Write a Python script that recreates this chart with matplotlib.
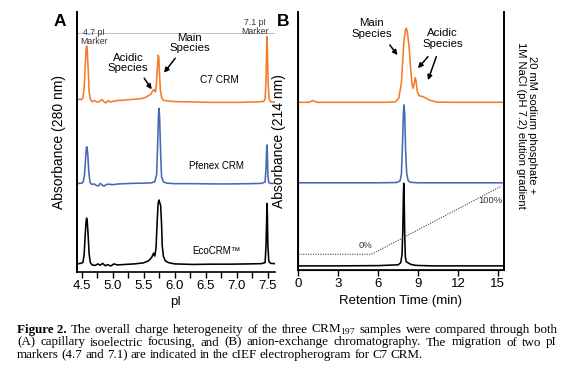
import matplotlib
matplotlib.use('Agg')
import matplotlib.pyplot as plt
from matplotlib.ticker import MultipleLocator

plt.rcParams['font.family'] = ['Liberation Sans', 'DejaVu Sans']
plt.rcParams['mathtext.fontset'] = 'custom'
plt.rcParams['mathtext.rm'] = 'Liberation Serif'
plt.rcParams['mathtext.bf'] = 'Liberation Serif:bold'

ORANGE = '#f47b2a'
BLUE = '#4668b3'

# ---- panel A: cIEF electropherograms (pI vs absorbance, arbitrary units, stacked)
c7_pi = [4.42, 4.46, 4.50, 4.52, 4.54, 4.555, 4.57, 4.58, 4.59, 4.605,
         4.62, 4.64, 4.67, 4.71, 4.75, 4.79, 4.83, 4.86, 4.89, 4.93,
         4.97, 5.02, 5.08, 5.15, 5.25, 5.35, 5.45, 5.52, 5.58, 5.62,
         5.65, 5.67, 5.69, 5.705, 5.72, 5.735, 5.745, 5.755, 5.77, 5.79,
         5.82, 5.9, 6.0, 6.2, 6.4, 6.6, 6.8, 7.0, 7.2, 7.35,
         7.44, 7.46, 7.475, 7.485, 7.49, 7.497, 7.51, 7.525, 7.55, 7.62]
c7_abs = [66.0, 66.4, 66.3, 67.0, 70.5, 78.0, 85.0, 86.9, 85.5, 78.0,
          69.5, 66.4, 65.4, 65.9, 65.3, 65.6, 66.3, 65.4, 65.0, 65.9,
          65.3, 65.7, 65.9, 66.0, 66.2, 66.4, 66.6, 67.0, 67.8, 68.5,
          69.8, 70.2, 69.2, 71.5, 78.0, 83.4, 82.5, 77.0, 70.0, 67.0,
          66.0, 65.7, 65.5, 65.4, 65.3, 65.2, 65.2, 65.2, 65.3, 65.4,
          65.6, 66.5, 74.0, 86.0, 90.5, 86.0, 72.0, 66.5, 65.4, 65.3]

pf_pi = [4.42, 4.48, 4.52, 4.545, 4.56, 4.575, 4.585, 4.60, 4.615, 4.635,
         4.66, 4.70, 4.74, 4.77, 4.80, 4.83, 4.86, 4.90, 4.95, 5.0,
         5.1, 5.3, 5.5, 5.62, 5.68, 5.71, 5.725, 5.74, 5.75, 5.76,
         5.775, 5.79, 5.82, 5.87, 6.0, 6.3, 6.6, 6.9, 7.2, 7.4,
         7.46, 7.475, 7.485, 7.49, 7.497, 7.505, 7.52, 7.55, 7.62]
pf_abs = [34.0, 34.0, 34.3, 37.0, 42.0, 47.5, 48.1, 45.0, 38.5, 34.5,
          33.6, 33.8, 33.2, 33.0, 34.0, 33.4, 32.9, 33.6, 33.7, 33.5,
          33.8, 34.0, 34.1, 34.2, 34.6, 37.5, 48.0, 60.5, 62.9, 58.0,
          45.0, 36.5, 34.6, 34.1, 33.9, 33.9, 33.8, 33.8, 33.9, 34.0,
          34.5, 40.0, 47.0, 48.8, 45.0, 37.0, 34.3, 34.0, 34.0]

eco_pi = [4.42, 4.48, 4.52, 4.54, 4.555, 4.57, 4.58, 4.59, 4.605, 4.62,
          4.64, 4.67, 4.72, 4.76, 4.80, 4.84, 4.88, 4.92, 4.97, 5.02,
          5.08, 5.2, 5.35, 5.5, 5.58, 5.63, 5.66, 5.68, 5.70, 5.72,
          5.735, 5.75, 5.76, 5.775, 5.79, 5.80, 5.82, 5.85, 5.9, 6.0,
          6.3, 6.6, 6.9, 7.2, 7.4, 7.46, 7.475, 7.485, 7.49, 7.497,
          7.505, 7.52, 7.55, 7.62]
eco_abs = [3.0, 3.2, 3.5, 6.5, 13.0, 19.0, 20.6, 19.5, 14.0, 7.0,
           3.5, 2.6, 2.4, 3.0, 2.5, 3.2, 2.3, 2.7, 2.2, 3.0,
           2.6, 2.8, 3.0, 3.4, 4.2, 5.5, 7.1, 6.0, 9.0, 20.0,
           26.5, 27.6, 26.5, 25.5, 18.0, 10.0, 5.8, 4.2, 3.5, 3.0,
           2.8, 2.9, 2.9, 3.0, 3.1, 3.5, 10.0, 20.0, 26.3, 22.0,
           10.0, 4.0, 3.2, 3.1]

pi_ticks = [4.5, 5.0, 5.5, 6.0, 6.5, 7.0, 7.5]

# ---- panel B: anion-exchange chromatograms (retention time in min)
c7_t = [0, 0.8, 1.1, 1.4, 3, 5, 6.5, 7.3, 7.55, 7.75,
        7.93, 8.05, 8.13, 8.22, 8.33, 8.45, 8.55, 8.63, 8.72, 8.8,
        8.86, 8.95, 9.1, 9.38, 9.6, 9.9, 10.4, 11.5, 13, 15.43]
c7_ab = [65.0, 65.0, 65.7, 65.0, 65.0, 65.0, 65.0, 65.2, 66.5, 72.4,
         87.9, 93.0, 93.7, 91.5, 86.6, 78.0, 72.0, 70.4, 72.5, 74.5,
         73.0, 69.0, 67.5, 67.2, 66.6, 65.8, 65.1, 65.0, 65.0, 65.0]

pf_t = [0, 3, 6, 7.4, 7.65, 7.75, 7.83, 7.9, 7.95, 8.0,
        8.07, 8.15, 8.25, 8.4, 9, 12, 15.43]
pf_ab = [33.8, 33.8, 33.8, 33.9, 34.5, 37.0, 48.0, 60.5, 64.0, 60.5,
         46.0, 37.5, 34.8, 34.0, 33.8, 33.8, 33.8]

eco_t = [0, 3, 6, 7.5, 7.7, 7.8, 7.86, 7.9, 7.93, 7.96,
         8.0, 8.05, 8.12, 8.25, 8.45, 8.8, 10, 15.43]
eco_ab = [1.6, 1.6, 1.7, 2.0, 2.8, 6.0, 16.0, 28.0, 33.6, 28.0,
          14.0, 5.0, 3.2, 2.8, 2.2, 1.8, 1.6, 1.6]

# salt gradient (% buffer B)
grad_t = [0, 5.5, 15.3]
grad_pct = [0, 0, 100]

time_ticks = [0, 3, 6, 9, 12, 15]

caption = [
    [("Figure 2.", True)] + [(w, False) for w in
     "The overall charge heterogeneity of the three CRM$_{197}$ samples were compared through both".split(' ')],
    [(w, False) for w in
     "(A) capillary isoelectric focusing, and (B) anion-exchange chromatography. The migration of two pI".split(' ')],
    [(w, False) for w in
     "markers (4.7 and 7.1) are indicated in the cIEF electropherogram for C7 CRM.".split(' ')],
]

fig = plt.figure(figsize=(5.74, 3.76), dpi=100)

# ============ panel A
axa = fig.add_axes([0.1336, 0.2774, 0.3455, 0.6907])
axa.axhline(91.8, color='#b5b5b5', lw=0.6, zorder=1)
axa.plot(c7_pi, c7_abs, color=ORANGE, lw=1.15)
axa.plot(pf_pi, pf_abs, color=BLUE, lw=1.15)
axa.plot(eco_pi, eco_abs, color='black', lw=1.15)
axa.set_xlim(4.42, 7.62)
axa.set_ylim(0, 100)
axa.set_xticks(pi_ticks)
axa.set_xticklabels(['%.1f' % v for v in pi_ticks])
axa.xaxis.set_minor_locator(MultipleLocator(0.25))
axa.set_yticks([])
for s in ['top', 'right']:
    axa.spines[s].set_visible(False)
axa.spines['left'].set_linewidth(1.4)
axa.spines['bottom'].set_linewidth(1.2)
axa.tick_params(axis='x', which='both', direction='out', length=4, width=1.0, labelsize=9.5, pad=2)
axa.set_xlabel('pI', fontsize=9.5, labelpad=3)
axa.set_ylabel('Absorbance (280 nm)', fontsize=10)
axa.yaxis.set_label_coords(-0.052, 0.5)

axa.text(4.70, 90.4, '4.7 pI\nMarker', fontsize=6.3, ha='center', va='center', color='#333333', linespacing=1.1)
axa.text(7.30, 94.2, '7.1 pI\nMarker', fontsize=6.3, ha='center', va='center', color='#333333', linespacing=1.1)
axa.text(5.25, 80.4, 'Acidic\nSpecies', fontsize=8.2, ha='center', va='center', linespacing=1.05)
axa.text(6.24, 88.1, 'Main\nSpecies', fontsize=8.2, ha='center', va='center', linespacing=1.05)
axa.text(6.73, 73.8, 'C7 CRM', fontsize=7.3, ha='center', va='center')
axa.text(6.68, 40.7, 'Pfenex CRM', fontsize=7.0, ha='center', va='center')
axa.text(6.67, 8.0, 'EcoCRM\u2122', fontsize=7.0, ha='center', va='center')
arrow = dict(arrowstyle='-|>', color='black', lw=1.1, mutation_scale=7, shrinkA=0, shrinkB=0)
axa.annotate('', xy=(5.63, 70.2), xytext=(5.51, 74.5), arrowprops=arrow)
axa.annotate('', xy=(5.83, 76.6), xytext=(6.01, 82.2), arrowprops=arrow)
fig.text(60 / 574, 1 - 22 / 376, 'A', fontsize=12.5, fontweight='bold', ha='center', va='center')

# ============ panel B
axb = fig.add_axes([0.5197, 0.2819, 0.3575, 0.6862])
axb.plot(c7_t, c7_ab, color=ORANGE, lw=1.15)
axb.plot(pf_t, pf_ab, color=BLUE, lw=1.15)
axb.plot(eco_t, eco_ab, color='black', lw=1.15)
axb.set_xlim(0, 15.43)
axb.set_ylim(0, 100)
axb.set_xticks(time_ticks)
axb.set_yticks([])
axb.spines['top'].set_visible(False)
for s in ['left', 'right']:
    axb.spines[s].set_linewidth(1.4)
axb.spines['bottom'].set_linewidth(1.2)
axb.tick_params(axis='x', direction='out', length=4, width=1.0, labelsize=9.5, pad=2)
axb.set_xlabel('Retention Time (min)', fontsize=9.5, labelpad=3)
axb.set_ylabel('Absorbance (214 nm)', fontsize=10)
axb.yaxis.set_label_coords(-0.058, 0.5)

axg = axb.twinx()
axg.plot(grad_t, grad_pct, color='#444444', lw=0.8, ls=(0, (1, 1.2)))
axg.set_ylim(-23.0, 354.4)
axg.set_yticks([])
axg.spines['top'].set_visible(False)
axg.spines['right'].set_visible(False)
axg.text(5.55, 6.2, '0%', fontsize=6.8, ha='right', va='bottom', color='#333333')
axg.text(15.32, 79, '100%', fontsize=6.8, ha='right', va='center', color='#333333')

axb.text(5.5, 93.6, 'Main\nSpecies', fontsize=8.2, ha='center', va='center', linespacing=1.05)
axb.text(10.83, 89.7, 'Acidic\nSpecies', fontsize=8.2, ha='center', va='center', linespacing=1.05)
axb.annotate('', xy=(7.46, 83.3), xytext=(6.88, 87.2), arrowprops=arrow)
axb.annotate('', xy=(9.0, 78.2), xytext=(9.75, 82.7), arrowprops=arrow)
axb.annotate('', xy=(9.75, 73.6), xytext=(10.38, 82.7), arrowprops=arrow)
axb.text(1.112, 0.56, '20 mM sodium phosphate +\n1M NaCl (pH 7.2) elution gradient',
         transform=axb.transAxes, rotation=-90, fontsize=8, ha='center', va='center',
         multialignment='center', linespacing=1.15)
fig.text(283 / 574, 1 - 22 / 376, 'B', fontsize=12.5, fontweight='bold', ha='center', va='center')

# ============ caption, justified lines
renderer = fig.canvas.get_renderer()
x_left, x_right = 17.0, 557.0
baselines = [333.0, 345.5, 358.0]
for i, line in enumerate(caption):
    texts = [fig.text(0, 1 - baselines[i] / 376, w, fontsize=9.4, family='Liberation Serif',
                      fontweight='bold' if b else 'normal', va='baseline') for w, b in line]
    widths = [t.get_window_extent(renderer).width for t in texts]
    if i < len(caption) - 1:
        gap = max(1.5, (x_right - x_left - sum(widths)) / (len(texts) - 1))
    else:
        gap = 3.0
    x = x_left
    for t, w in zip(texts, widths):
        t.set_x(x / 574)
        x += w + gap

fig.savefig('out.png', dpi=100)
